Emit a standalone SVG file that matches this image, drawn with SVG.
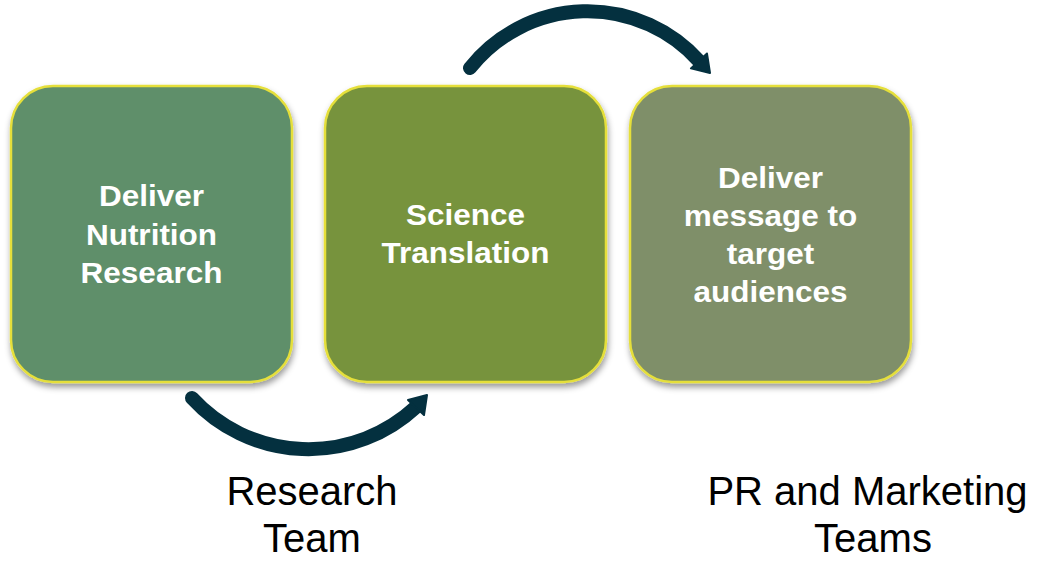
<svg xmlns="http://www.w3.org/2000/svg" width="1054" height="561" viewBox="0 0 1054 561">
<defs>
<filter id="sh" x="-10%" y="-10%" width="125%" height="125%">
<feDropShadow dx="1" dy="4" stdDeviation="3" flood-color="#000" flood-opacity="0.4"/>
</filter>
<style>
.box{stroke:#E5DF3B;stroke-width:2.5;filter:url(#sh)}
.bt{font-family:"Liberation Sans",Arial,sans-serif;font-weight:bold;font-size:30px;fill:#fff;text-anchor:middle}
.lt{font-family:"Liberation Sans",Arial,sans-serif;font-size:40px;fill:#000;text-anchor:middle}
.arc{fill:none;stroke:#04303F;stroke-width:14;stroke-linecap:round}
.head{fill:#04303F;stroke:#04303F;stroke-width:2;stroke-linejoin:round}
</style>
</defs>
<rect width="1054" height="561" fill="#fff"/>
<g id="node-research">
<rect class="box" x="11" y="86" width="281" height="296" rx="42" fill="#5F8F6A"/>
<g transform="translate(151.5,0) scale(1.05,1)">
<text class="bt" x="0" y="206">Deliver</text>
<text class="bt" x="0" y="245">Nutrition</text>
<text class="bt" x="0" y="283">Research</text>
</g>
</g>
<g id="node-translation">
<rect class="box" x="325" y="86" width="281" height="296" rx="42" fill="#77933C"/>
<g transform="translate(465.5,0) scale(1.05,1)">
<text class="bt" x="0" y="225">Science</text>
<text class="bt" x="0" y="263">Translation</text>
</g>
</g>
<g id="node-deliver">
<rect class="box" x="630" y="86" width="281" height="296" rx="42" fill="#7F8F69"/>
<g transform="translate(770.5,0) scale(1.05,1)">
<text class="bt" x="0" y="188">Deliver</text>
<text class="bt" x="0" y="226">message to</text>
<text class="bt" x="0" y="264">target</text>
<text class="bt" x="0" y="302">audiences</text>
</g>
</g>
<g id="connectors">
<path class="arc" d="M192,398 A158,158 0 0 0 416,407"/>
<polygon class="head" points="427,395 424,415 408,400"/>
<path class="arc" d="M470,68 A150,150 0 0 1 699,61"/>
<polygon class="head" points="710,73 707,53.6 690.9,68.4"/>
</g>
<g id="label-research">
<text class="lt" x="312" y="505">Research</text>
<text class="lt" x="312" y="552">Team</text>
</g>
<g id="label-pr">
<text class="lt" x="867.5" y="505">PR and Marketing</text>
<text class="lt" x="873" y="552">Teams</text>
</g>
</svg>
